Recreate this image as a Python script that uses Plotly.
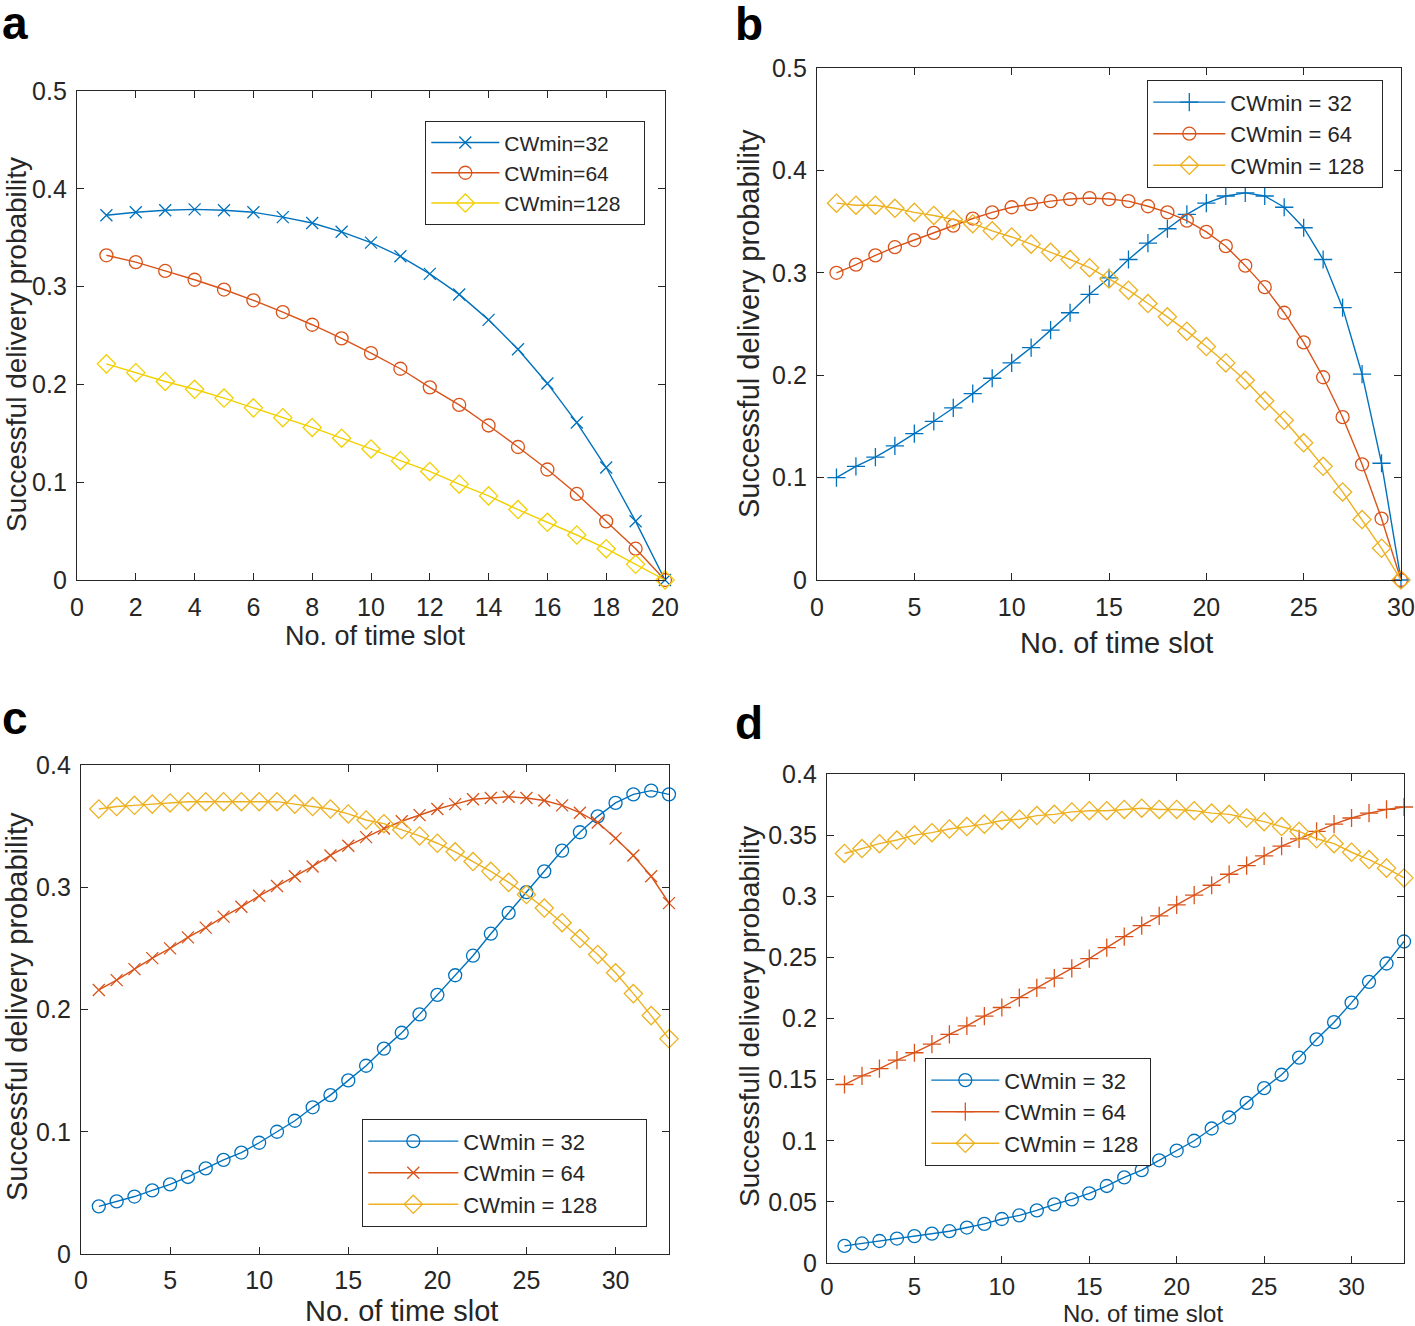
import plotly.graph_objects as go

# ---------------- data ----------------
slots_a = list(range(1, 21))
a_cw32 = [0.373, 0.376, 0.378, 0.379, 0.378, 0.376, 0.371, 0.365, 0.356, 0.345,
          0.331, 0.313, 0.292, 0.266, 0.236, 0.201, 0.161, 0.115, 0.060, 0.0]
a_cw64 = [0.332, 0.325, 0.316, 0.307, 0.297, 0.286, 0.274, 0.261, 0.247, 0.232,
          0.216, 0.197, 0.179, 0.158, 0.136, 0.113, 0.088, 0.060, 0.032, 0.0]
a_cw128 = [0.221, 0.212, 0.203, 0.195, 0.186, 0.176, 0.166, 0.156, 0.145, 0.134,
           0.122, 0.111, 0.098, 0.086, 0.072, 0.059, 0.046, 0.032, 0.016, 0.0]

slots_b = list(range(1, 31))
b_cw32 = [0.100, 0.111, 0.120, 0.131, 0.143, 0.155, 0.168, 0.182, 0.197, 0.212,
          0.227, 0.244, 0.261, 0.279, 0.295, 0.313, 0.329, 0.343, 0.357, 0.368,
          0.375, 0.378, 0.375, 0.364, 0.344, 0.313, 0.266, 0.201, 0.114, 0.0]
b_cw64 = [0.300, 0.308, 0.317, 0.325, 0.332, 0.339, 0.346, 0.353, 0.359, 0.364,
          0.367, 0.370, 0.372, 0.373, 0.372, 0.370, 0.365, 0.359, 0.351, 0.340,
          0.326, 0.307, 0.286, 0.261, 0.232, 0.198, 0.159, 0.113, 0.060, 0.0]
b_cw128 = [0.368, 0.366, 0.366, 0.363, 0.359, 0.356, 0.352, 0.348, 0.341, 0.335,
           0.328, 0.320, 0.313, 0.305, 0.294, 0.283, 0.270, 0.257, 0.243, 0.228,
           0.212, 0.195, 0.175, 0.156, 0.134, 0.111, 0.086, 0.059, 0.031, 0.0]

slots_c = list(range(1, 34))
c_cw32 = [0.039, 0.043, 0.047, 0.052, 0.057, 0.063, 0.070, 0.077, 0.083, 0.091,
          0.100, 0.109, 0.120, 0.130, 0.142, 0.154, 0.168, 0.181, 0.196, 0.212,
          0.228, 0.244, 0.262, 0.279, 0.296, 0.313, 0.330, 0.345, 0.358, 0.369,
          0.376, 0.379, 0.376]
c_cw64 = [0.216, 0.224, 0.233, 0.242, 0.250, 0.259, 0.267, 0.276, 0.284, 0.293,
          0.301, 0.309, 0.317, 0.326, 0.334, 0.341, 0.348, 0.354, 0.359, 0.364,
          0.368, 0.372, 0.373, 0.374, 0.373, 0.371, 0.367, 0.361, 0.353, 0.340,
          0.326, 0.309, 0.287]
c_cw128 = [0.364, 0.366, 0.367, 0.368, 0.369, 0.370, 0.370, 0.370, 0.370, 0.370,
           0.370, 0.368, 0.366, 0.364, 0.360, 0.355, 0.352, 0.347, 0.342, 0.336,
           0.329, 0.321, 0.313, 0.304, 0.294, 0.283, 0.271, 0.258, 0.245, 0.230,
           0.213, 0.195, 0.176]

slots_d = list(range(1, 34))
d_cw32 = [0.014, 0.016, 0.018, 0.020, 0.022, 0.024, 0.026, 0.029, 0.032, 0.036,
          0.039, 0.043, 0.048, 0.052, 0.057, 0.063, 0.070, 0.076, 0.084, 0.092,
          0.100, 0.110, 0.119, 0.131, 0.143, 0.154, 0.168, 0.183, 0.197, 0.213,
          0.230, 0.245, 0.263]
d_cw64 = [0.146, 0.153, 0.159, 0.166, 0.172, 0.179, 0.187, 0.194, 0.202, 0.209,
          0.217, 0.225, 0.233, 0.241, 0.249, 0.258, 0.267, 0.276, 0.284, 0.293,
          0.301, 0.309, 0.318, 0.325, 0.333, 0.341, 0.347, 0.353, 0.359, 0.364,
          0.368, 0.371, 0.373]
d_cw128 = [0.335, 0.339, 0.343, 0.346, 0.350, 0.352, 0.355, 0.357, 0.359, 0.362,
           0.363, 0.366, 0.367, 0.369, 0.370, 0.370, 0.371, 0.372, 0.371, 0.371,
           0.370, 0.368, 0.367, 0.364, 0.361, 0.357, 0.353, 0.347, 0.343, 0.336,
           0.330, 0.323, 0.315]

names_a = ["CWmin=32", "CWmin=64", "CWmin=128"]
names_sp = ["CWmin = 32", "CWmin = 64", "CWmin = 128"]

YT = "Successful delivery probability"
YT_D = "Successfull delivery probability"
XT = "No. of time slot"

# ---------------- styling ----------------
W, H = 1415, 1326
BLUE = "#0072BD"
ORANGE = "#D95319"
YELLOW = "#EDB120"
YELLOW_A = "#F2D000"
TXT = "#262626"
FONT = "Liberation Sans, Arial, sans-serif"
MSIZE = {"circle-open": 13, "diamond-open": 14, "x-thin-open": 12, "cross-thin-open": 13}

def px_x(p):
    return p / W

def px_y(p):
    return 1 - p / H

def pad(name, n):
    return name + "\u00a0" * n

fig = go.Figure()

def add(x, y, name, color, symbol, ax, legend):
    fig.add_trace(go.Scatter(
        x=x, y=y, name=name, mode="lines+markers",
        line=dict(color=color, width=1.4),
        marker=dict(symbol=symbol, size=MSIZE[symbol], color=color,
                    line=dict(color=color, width=1.3)),
        xaxis="x" + ax, yaxis="y" + ax, legend=legend, cliponaxis=False))

add(slots_a, a_cw32, pad(names_a[0], 3), BLUE, "x-thin-open", "", "legend")
add(slots_a, a_cw64, pad(names_a[1], 3), ORANGE, "circle-open", "", "legend")
add(slots_a, a_cw128, pad(names_a[2], 3), YELLOW_A, "diamond-open", "", "legend")

add(slots_b, b_cw32, pad(names_sp[0], 2), BLUE, "cross-thin-open", "2", "legend2")
add(slots_b, b_cw64, pad(names_sp[1], 2), ORANGE, "circle-open", "2", "legend2")
add(slots_b, b_cw128, pad(names_sp[2], 2), YELLOW, "diamond-open", "2", "legend2")

add(slots_c, c_cw32, pad(names_sp[0], 7), BLUE, "circle-open", "3", "legend3")
add(slots_c, c_cw64, pad(names_sp[1], 7), ORANGE, "x-thin-open", "3", "legend3")
add(slots_c, c_cw128, pad(names_sp[2], 7), YELLOW, "diamond-open", "3", "legend3")

add(slots_d, d_cw32, pad(names_sp[0], 1), BLUE, "circle-open", "4", "legend4")
add(slots_d, d_cw64, pad(names_sp[1], 1), ORANGE, "cross-thin-open", "4", "legend4")
add(slots_d, d_cw128, pad(names_sp[2], 1), YELLOW, "diamond-open", "4", "legend4")

def axis(domain, rng, dtick, tsize, lblgap):
    return dict(
        domain=domain, range=rng, dtick=dtick, tick0=0,
        showline=True, linecolor=TXT, linewidth=1.3, mirror="ticks",
        ticks="inside", ticklen=7, tickcolor=TXT, tickwidth=1.2,
        showgrid=False, zeroline=False, automargin=False,
        ticklabelstandoff=lblgap,
        tickfont=dict(family=FONT, size=tsize, color=TXT),
    )

lay = dict(
    width=W, height=H, margin=dict(l=0, r=0, t=0, b=0),
    paper_bgcolor="white", plot_bgcolor="white",
    font=dict(family=FONT, color=TXT),
    xaxis=axis([px_x(77), px_x(665)], [0, 20], 2, 25, 5),
    yaxis=axis([px_y(580), px_y(91)], [0, 0.5], 0.1, 25, 4),
    xaxis2=axis([px_x(817), px_x(1401)], [0, 30], 5, 25, 5),
    yaxis2=axis([px_y(580), px_y(68)], [0, 0.5], 0.1, 25, 4),
    xaxis3=axis([px_x(81), px_x(669)], [0, 33], 5, 25, 4),
    yaxis3=axis([px_y(1254), px_y(765)], [0, 0.4], 0.1, 25, 4),
    xaxis4=axis([px_x(827), px_x(1404)], [0, 33], 5, 24, 2),
    yaxis4=axis([px_y(1263), px_y(774)], [0, 0.4], 0.05, 25, 4),
)
lay["yaxis"]["anchor"] = "x"
lay["xaxis"]["anchor"] = "y"
for i in ("2", "3", "4"):
    lay["xaxis" + i]["anchor"] = "y" + i
    lay["yaxis" + i]["anchor"] = "x" + i

def legend(xp, yp, size, iw):
    return dict(x=px_x(xp), y=px_y(yp), xanchor="left", yanchor="top",
                bgcolor="white", bordercolor=TXT, borderwidth=1.3,
                font=dict(family=FONT, size=size, color=TXT),
                itemwidth=iw, tracegroupgap=0)

lay["legend"] = legend(425, 121, 21, 68)
lay["legend2"] = legend(1147, 80, 22, 72)
lay["legend3"] = legend(362, 1119, 22, 90)
lay["legend4"] = legend(925, 1058, 22, 68)
lay["showlegend"] = True

fig.update_layout(**lay)

# axis titles (placed directly in page coordinates)
titles = [
    (YT, 17, 345, 28, -90), (XT, 375, 636, 27, 0),
    (YT, 749, 324, 29, -90), (XT, 1116, 643, 29, 0),
    (YT, 17, 1007, 29, -90), (XT, 401, 1311, 29, 0),
    (YT_D, 749, 1017, 28, -90), (XT, 1143, 1313, 24, 0),
]
for txt, xp, yp, fs, ang in titles:
    fig.add_annotation(text=txt, x=px_x(xp), y=px_y(yp), xref="paper", yref="paper",
                       xanchor="center", yanchor="middle", showarrow=False,
                       textangle=ang, font=dict(family=FONT, size=fs, color=TXT))

for lbl, xp, yp in [("a", 0, -5), ("b", 733, -4), ("c", 0, 690), ("d", 733, 695)]:
    fig.add_annotation(text="<b>" + lbl + "</b>", x=px_x(xp), y=px_y(yp),
                       xref="paper", yref="paper", xanchor="left", yanchor="top",
                       showarrow=False,
                       font=dict(family=FONT, size=46, color="black"))

fig.write_html("out.html",
               config={"displayModeBar": False},
               post_script="document.body.style.margin='0px';"
                           "document.body.style.overflow='hidden';")
